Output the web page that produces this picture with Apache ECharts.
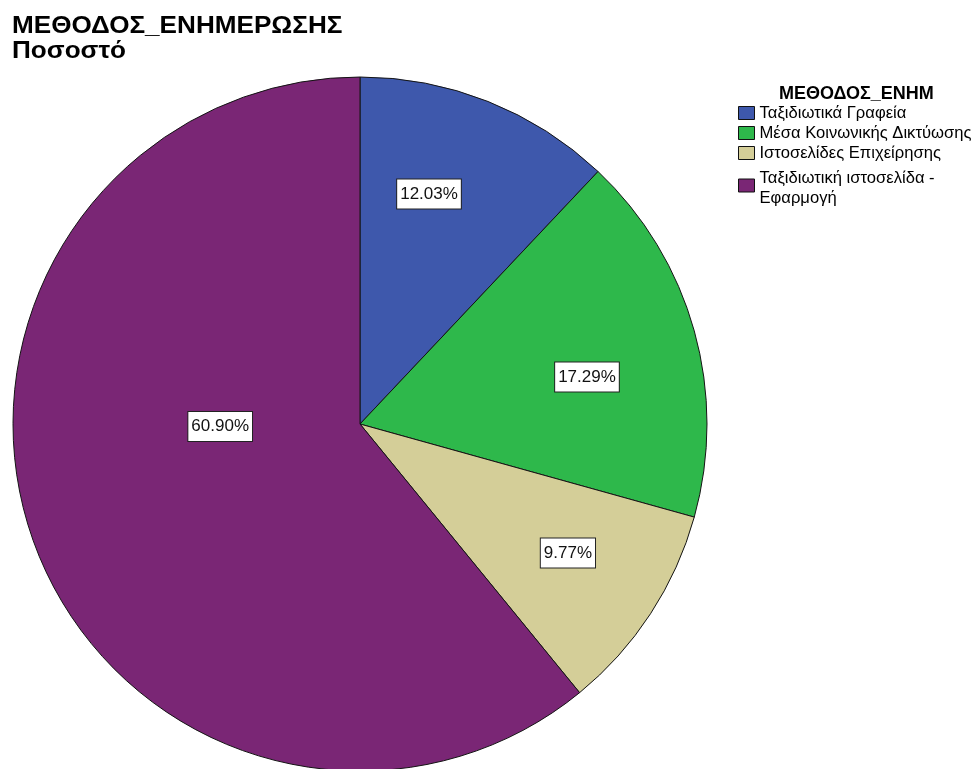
<!DOCTYPE html>
<html>
<head>
<meta charset="utf-8">
<script src="https://cdn.jsdelivr.net/npm/echarts@6/dist/echarts.min.js"></script>
<style>
  html, body { margin: 0; padding: 0; background: #fff; }
  #chart { width: 973px; height: 769px; }
</style>
</head>
<body>
<div id="chart"></div>
<script>
// Share of respondents by information method (percent)
const chartTitle = 'ΜΕΘΟΔΟΣ_ΕΝΗΜΕΡΩΣΗΣ\nΠοσοστό';
const legendTitle = 'ΜΕΘΟΔΟΣ_ΕΝΗΜ';
const categories = [
  'Ταξιδιωτικά Γραφεία',
  'Μέσα Κοινωνικής Δικτύωσης',
  'Ιστοσελίδες Επιχείρησης',
  'Ταξιδιωτική ιστοσελίδα - Εφαρμογή'
];
const percentages = [12.03, 17.29, 9.77, 60.90];
const sliceColors = ['#3e58ac', '#2eb84b', '#d4ce98', '#7a2675'];

// Where each value box sits inside its slice: angle (deg, clockwise from top) and share of radius
const labelAngle = [16.7, 78.3, 121.8, 269.0];
const labelRadius = [0.692, 0.668, 0.705, 0.403];

const CX = 360, CY = 424, R = 347;
const FONT = 'Arial, "Liberation Sans", sans-serif';

const chart = echarts.init(document.getElementById('chart'), null, { renderer: 'canvas' });

// Long names wrap onto two lines in the legend, with a little space above
const legendLabel = name => {
  if (name === categories[3]) {
    return '{gap| }\n{t|Ταξιδιωτική ιστοσελίδα -}\n{t|Εφαρμογή}';
  }
  return '{t|' + name + '}';
};

chart.setOption({
  animation: false,
  backgroundColor: '#ffffff',
  title: {
    text: legendTitle,
    left: 774, top: 80,
    textStyle: { fontFamily: FONT, fontSize: 18, fontWeight: 'bold', color: '#000' }
  },
  // Heading drawn a little wider than the plain bold face
  graphic: [{
    type: 'text',
    x: 12, y: 14,
    scaleX: 1.135,
    style: {
      text: chartTitle,
      font: 'bold 23px Arial, "Liberation Sans", sans-serif',
      fill: '#000',
      lineHeight: 25,
      verticalAlign: 'top',
      align: 'left'
    }
  }],
  legend: {
    orient: 'vertical',
    left: 738, top: 103,
    padding: 0,
    itemWidth: 16, itemHeight: 13, itemGap: 0,
    icon: 'rect',
    data: categories,
    formatter: legendLabel,
    itemStyle: { borderColor: '#111', borderWidth: 1 },
    textStyle: {
      fontFamily: FONT, fontSize: 16.6, color: '#000', lineHeight: 20,
      rich: {
        t: { fontFamily: FONT, fontSize: 16.6, color: '#000', lineHeight: 20 },
        gap: { fontSize: 1, lineHeight: 5, height: 5 }
      }
    }
  },
  series: [{
    type: 'pie',
    center: [CX, CY],
    radius: R,
    startAngle: 90,
    clockwise: true,
    avoidLabelOverlap: false,
    silent: true,
    data: categories.map((name, i) => ({
      name,
      value: percentages[i],
      itemStyle: { color: sliceColors[i] }
    })),
    itemStyle: { borderColor: '#141414', borderWidth: 1 },
    label: {
      show: true,
      position: 'inside',
      formatter: p => p.value.toFixed(2) + '%',
      fontFamily: FONT,
      fontSize: 17,
      color: '#111',
      backgroundColor: '#ffffff',
      borderColor: '#222',
      borderWidth: 1,
      padding: [7, 3, 5, 3]
    },
    labelLine: { show: false },
    labelLayout: params => {
      const i = params.dataIndex;
      const a = labelAngle[i] * Math.PI / 180;
      const r = labelRadius[i] * R;
      return {
        x: CX + r * Math.sin(a),
        y: CY - r * Math.cos(a),
        align: 'center',
        verticalAlign: 'middle'
      };
    }
  }]
});
</script>
</body>
</html>
